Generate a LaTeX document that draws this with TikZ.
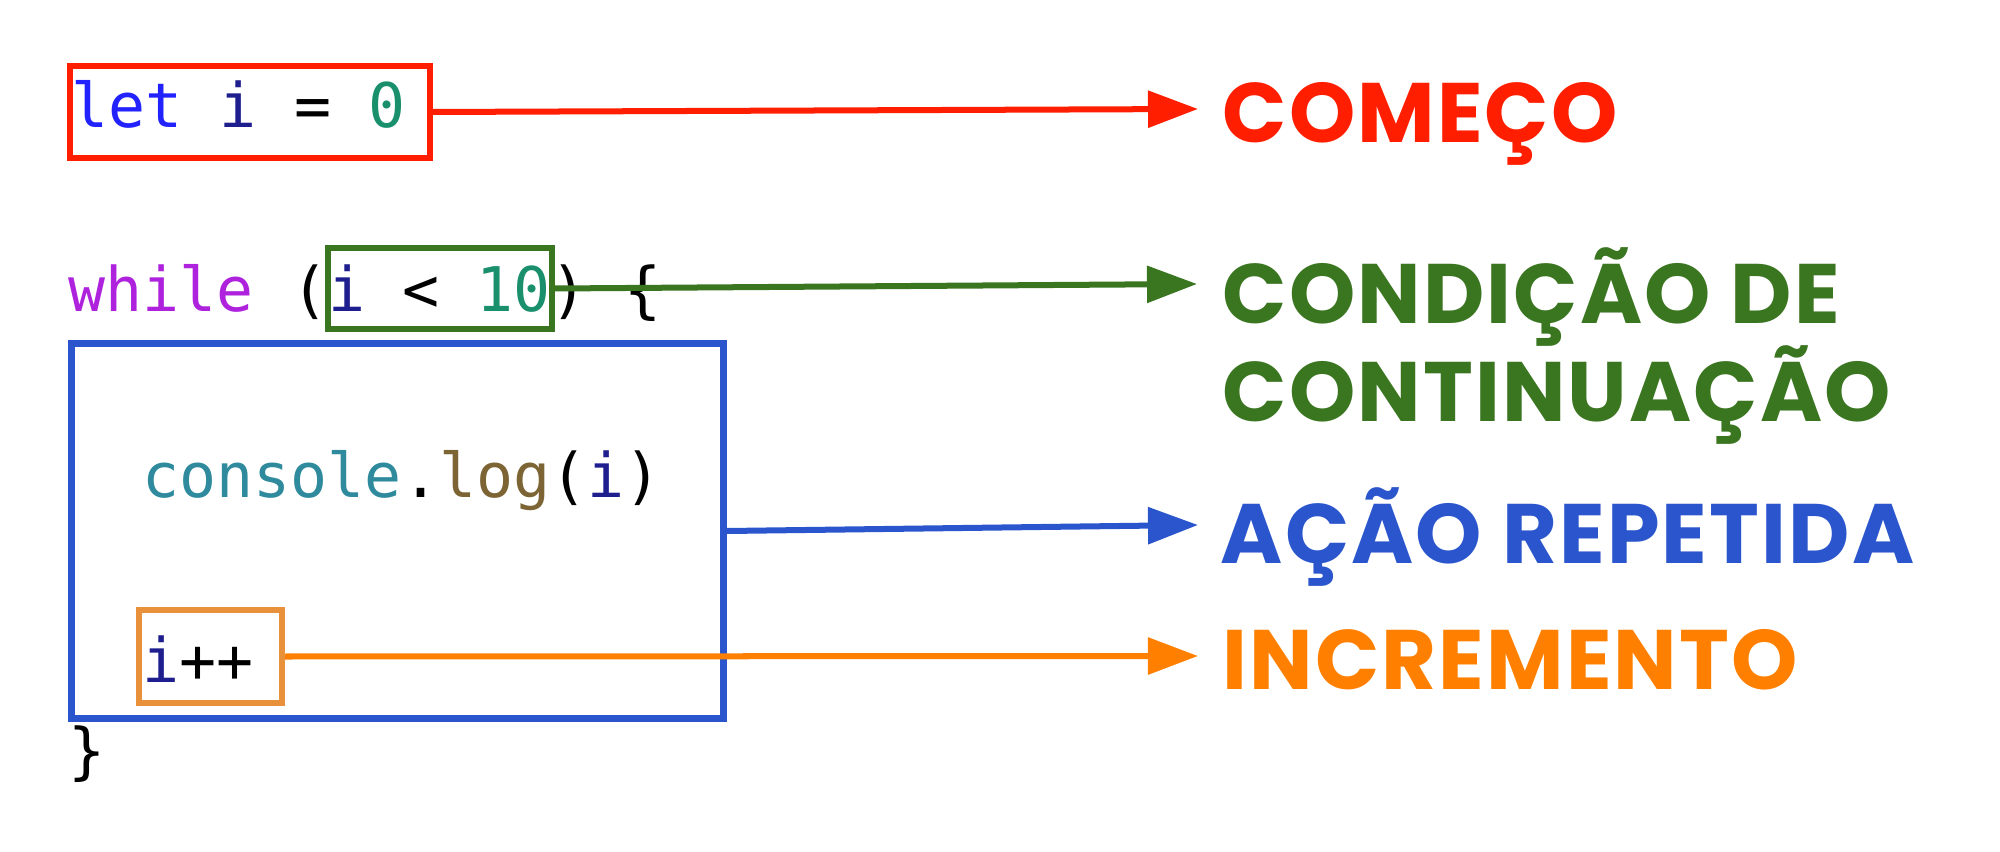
\documentclass[tikz,border=0pt]{standalone}
\usepackage{fontspec}
\setmonofont{DejaVu Sans Mono}
\newfontfamily\labelfont{Poppins}[LetterSpace=2.5]
\usepackage{tikz}
\usetikzlibrary{positioning, arrows.meta, calc}

\definecolor{cred}{HTML}{FF1E00}
\definecolor{cgreen}{HTML}{3A7520}
\definecolor{cblue}{HTML}{2A55CC}
\definecolor{corange}{HTML}{FF7F00}
\definecolor{cboxorange}{HTML}{E8903A}
\definecolor{kwlet}{HTML}{2222FF}
\definecolor{kwwhile}{HTML}{AE22DD}
\definecolor{varname}{HTML}{1E1E8E}
\definecolor{numlit}{HTML}{1A8F6C}
\definecolor{objname}{HTML}{2E8A9C}
\definecolor{fnname}{HTML}{7D6435}

\begin{document}
\begin{tikzpicture}[x=0.01cm, y=-0.01cm,
 code/.style={anchor=base west, inner sep=0pt, font=\ttfamily\fontsize{17.5pt}{21pt}\selectfont},
 tag/.style={anchor=base west, inner sep=0pt, align=left,
 font=\labelfont\bfseries\fontsize{24pt}{28.1pt}\selectfont},
 markbox/.style={draw, line width=0.06cm, inner sep=0pt},
 pointer/.style={line width=0.06cm, -{Triangle[length=0.5cm, width=0.36cm]}}]
 \useasboundingbox (0,0) rectangle (2000,852);
 % source code
 \node[code] (letline) at (71,128)
 {\textcolor{kwlet}{let} \textcolor{varname}{i} = \textcolor{numlit}{0}};
 \node[code] (whileline) at (68,312)
 {\textcolor{kwwhile}{while} (\textcolor{varname}{i} < \textcolor{numlit}{10}) \{};
 \node[code] (logline) at (142,498)
 {\textcolor{objname}{console}.\textcolor{fnname}{log}(\textcolor{varname}{i})};
 \node[code] (incline) at (142,682) {\textcolor{varname}{i}++};
 \node[code] (closeline) at (68,772) {\}};
 % boxes round the parts
 \node[markbox, cred, minimum width=3.6cm, minimum height=0.92cm] (startbox) at (250,112) {};
 \node[markbox, cgreen, minimum width=2.24cm, minimum height=0.81cm] (condbox) at (440,288.5) {};
 \node[markbox, cblue, line width=0.07cm, minimum width=6.52cm, minimum height=3.75cm] (loopbox) at (397.5,531) {};
 \node[markbox, cboxorange, minimum width=1.43cm, minimum height=0.93cm] (incbox) at (210.5,656.5) {};
 % labels
 \node[tag, cred] (starttag) at (1222,143) {COMEÇO};
 \node[tag, cgreen] (condtag) at (1222,422) {CONDIÇÃO DE\\CONTINUAÇÃO};
 \node[tag, cblue] (looptag) at (1220,563) {AÇÃO REPETIDA};
 \node[tag, corange] (inctag) at (1222,689) {INCREMENTO};
 \coordinate (starttip) at (1198,109);
 \coordinate (condtip) at (1197,284);
 \coordinate (looptip) at (1198,525);
 \coordinate (inctip) at (1198,656);
 \draw[pointer, cred] (startbox.east) -- (starttip);
 \draw[pointer, cgreen] (condbox.east) -- (condtip);
 \draw[pointer, cblue] (loopbox.east) -- (looptip);
 \draw[pointer, corange] (incbox.east) -- (inctip);
\end{tikzpicture}
\end{document}
